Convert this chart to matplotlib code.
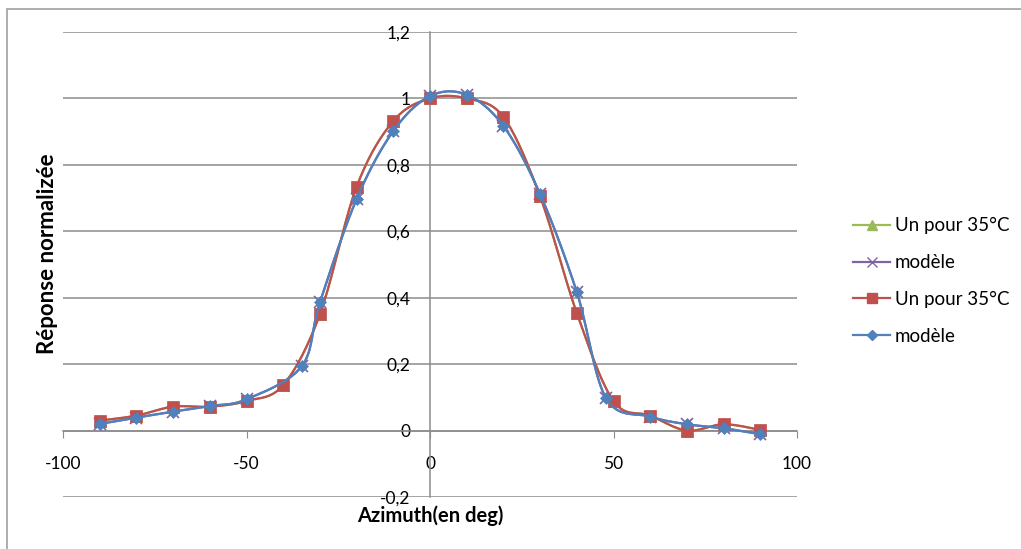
import matplotlib.pyplot as plt
import numpy as np
from matplotlib.patches import Rectangle

plt.rcParams["font.family"] = ["Lato", "DejaVu Sans"]

# measured response (red squares) and model (blue diamonds)
mes_x = [-90, -80, -70, -60, -50, -40, -30, -20, -10, 0, 10, 20, 30, 40, 50, 60, 70, 80, 90]
mes_y = [0.03, 0.045, 0.072, 0.072, 0.089, 0.137, 0.35, 0.734, 0.932, 1.0, 1.0,
         0.944, 0.705, 0.354, 0.089, 0.045, 0.0, 0.019, 0.002]
mod_x = [-90, -80, -70, -60, -50, -35, -30, -20, -10, 0, 10, 20, 30, 40, 48, 60, 70, 80, 90]
mod_y = [0.02, 0.039, 0.057, 0.074, 0.094, 0.193, 0.386, 0.697, 0.902, 1.007, 1.011,
         0.917, 0.712, 0.417, 0.097, 0.042, 0.019, 0.007, -0.011]

labels = ["Un pour 35°C", "modèle", "Un pour 35°C", "modèle"]
yticks = [-0.2, 0, 0.2, 0.4, 0.6, 0.8, 1, 1.2]
ytick_labels = ["-0,2", "0", "0,2", "0,4", "0,6", "0,8", "1", "1,2"]
xticks = [-100, -50, 0, 50, 100]


def smooth(x, y, n=20):
    # Excel-like smoothed line: Catmull-Rom bezier through the points
    x = np.asarray(x, float)
    y = np.asarray(y, float)
    px = np.concatenate([[x[0]], x, [x[-1]]])
    py = np.concatenate([[y[0]], y, [y[-1]]])
    t = np.linspace(0, 1, n)[:, None]
    xs, ys = [], []
    for i in range(1, len(px) - 2):
        p0, p1, p2, p3 = (np.array([px[j], py[j]]) for j in range(i - 1, i + 3))
        c1 = p1 + (p2 - p0) / 6
        c2 = p2 - (p3 - p1) / 6
        seg = ((1 - t) ** 3) * p1 + 3 * ((1 - t) ** 2) * t * c1 + 3 * (1 - t) * t ** 2 * c2 + t ** 3 * p2
        xs.append(seg[:, 0])
        ys.append(seg[:, 1])
    return np.concatenate(xs), np.concatenate(ys)


fig = plt.figure(figsize=(10.21, 5.49), dpi=100)
fig.patches.append(Rectangle((7 / 1021, -0.1), 1.2, 1 - 9 / 549 + 0.1, transform=fig.transFigure,
                             fill=False, edgecolor="#a0a0a0", linewidth=1.2))
ax = fig.add_axes([63 / 1021, 1 - 497 / 549, 734 / 1021, 465 / 549])

series = [
    (mes_x, mes_y, "#9BBB59", "^", 8, labels[0]),
    (mod_x, mod_y, "#8064A2", "x", 8, labels[1]),
    (mes_x, mes_y, "#C0504D", "s", 8, labels[2]),
    (mod_x, mod_y, "#4F81BD", "D", 6, labels[3]),
]
for i, (sx, sy, color, marker, ms, label) in enumerate(series):
    lx, ly = smooth(sx, sy)
    ax.plot(lx, ly, color=color, linewidth=1.6, zorder=3 + i)
    ax.plot(sx, sy, linestyle="none", marker=marker, markersize=ms, color=color,
            markeredgewidth=1.2 if marker == "x" else 0.5, zorder=3 + i)
    ax.plot([], [], color=color, linewidth=1.6, marker=marker, markersize=ms - 1, label=label)

ax.set_xlim(-100, 100)
ax.set_ylim(-0.2, 1.2)
for y in yticks:
    ax.axhline(y, color="#8c8c8c", linewidth=1.1, zorder=1)

for side in ["top", "right", "bottom", "left"]:
    ax.spines[side].set_visible(False)
ax.spines["left"].set_visible(True)
ax.spines["left"].set_position(("data", 0))
ax.spines["left"].set_color("#8c8c8c")
ax.spines["left"].set_linewidth(1.1)
ax.spines["bottom"].set_visible(True)
ax.spines["bottom"].set_position(("data", 0))
ax.spines["bottom"].set_color("#8c8c8c")
ax.spines["bottom"].set_linewidth(1.1)

ax.set_yticks(yticks)
ax.set_yticklabels(ytick_labels)
ax.tick_params(axis="y", length=0, pad=14, labelsize=12.5)
ax.set_xticks(xticks)
ax.set_xticklabels([str(v) for v in xticks])
ax.tick_params(axis="x", direction="out", length=5, color="#8c8c8c", pad=13, labelsize=12.5)

fig.text(430 / 1021, 1 - 516 / 549, "Azimuth(en deg)", ha="center", va="center",
         fontsize=14.5, fontweight="bold")
fig.text(48 / 1021, 1 - 254 / 549, "Réponse normalizée", ha="center", va="center",
         rotation=90, fontsize=16, fontweight="bold")

ax.legend(loc="center left", bbox_to_anchor=(836 / 1021, 1 - 281 / 549), bbox_transform=fig.transFigure,
          frameon=False, fontsize=13.5, handlelength=2.0, labelspacing=1.05, handletextpad=0.25)

fig.savefig("out.png", dpi=100)
